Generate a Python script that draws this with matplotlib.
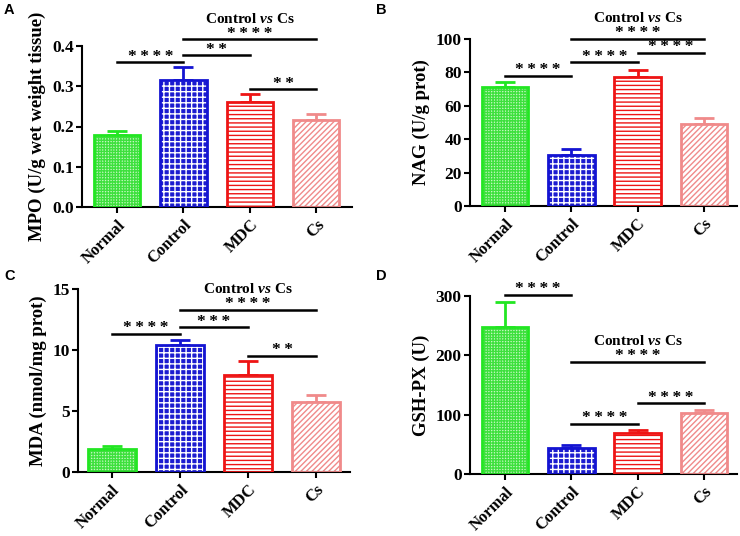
import matplotlib
matplotlib.use('Agg')
import matplotlib.pyplot as plt
from matplotlib.ticker import FormatStrFormatter

plt.rcParams['font.family'] = 'Liberation Serif'
plt.rcParams['font.weight'] = 'bold'
plt.rcParams['mathtext.fontset'] = 'custom'
plt.rcParams['mathtext.it'] = 'Liberation Serif:italic:bold'
plt.rcParams['mathtext.rm'] = 'Liberation Serif:bold'
plt.rcParams['hatch.linewidth'] = 1.0

groups = ['Normal', 'Control', 'MDC', 'Cs']

# panel A - MPO
mpo_mean = [0.180, 0.315, 0.261, 0.215]
mpo_err = [0.010, 0.032, 0.019, 0.017]
# panel B - NAG
nag_mean = [71.2, 30.5, 77.2, 48.9]
nag_err = [3.3, 3.8, 4.0, 4.0]
# panel C - MDA
mda_mean = [1.90, 10.36, 7.91, 5.70]
mda_err = [0.25, 0.47, 1.14, 0.63]
# panel D - GSH-PX
gsh_mean = [248, 44, 69, 103]
gsh_err = [42, 5.6, 5.0, 5.0]

# significance brackets: (from, to, height, stars)
mpo_sig = [(0, 1, 0.3595, '****'), (1, 2, 0.377, '**'), (1, 3, 0.4165, '****'), (2, 3, 0.293, '**')]
nag_sig = [(0, 1, 78, '****'), (1, 2, 86, '****'), (2, 3, 91.6, '****'), (1, 3, 100, '****')]
mda_sig = [(0, 1, 11.29, '****'), (1, 2, 11.86, '***'), (1, 3, 13.28, '****'), (2, 3, 9.52, '**')]
gsh_sig = [(0, 1, 302, '****'), (1, 3, 189, '****'), (1, 2, 85, '****'), (2, 3, 119, '****')]

edge_colors = ['#22e622', '#1414d2', '#ee1414', '#f08a8a']
face_colors = ['#c4f8c0', '#1c1cd0', 'white', 'white']
hatch_colors = ['#3ee03e', 'white', '#ee1414', '#f08a8a']
hatches = ['++++++', '+++', '----', '//////']

W, H = 740, 536
panels = [
    # letter, mean, err, sig, ylabel, ylim, yticks, fmt, box(px: left, right, bottom, top), xlim, letter pos
    ('A', mpo_mean, mpo_err, mpo_sig, 'MPO (U/g wet weight tissue)', 0.4, [0, 0.1, 0.2, 0.3, 0.4], '%.1f',
     (82, 352, 207, 46), (-0.53, 3.54), (4, 10)),
    ('B', nag_mean, nag_err, nag_sig, 'NAG (U/g prot)', 100, [0, 20, 40, 60, 80, 100], '%d',
     (470, 737, 206, 39), (-0.53, 3.5), (376, 10)),
    ('C', mda_mean, mda_err, mda_sig, 'MDA (nmol/mg prot)', 15, [0, 5, 10, 15], '%d',
     (78, 350, 472, 288.7), (-0.5, 3.5), (4, 276)),
    ('D', gsh_mean, gsh_err, gsh_sig, 'GSH-PX (U)', 300, [0, 100, 200, 300], '%d',
     (470, 737, 474, 296), (-0.53, 3.5), (376, 276)),
]

fig = plt.figure(figsize=(7.4, 5.36), dpi=100)

for letter, mean, err, sig, ylabel, ytop, yticks, fmt, box, xlim, lpos in panels:
    l, r, b, t = box
    ax = fig.add_axes([l / W, 1 - b / H, (r - l) / W, (b - t) / H])
    x = list(range(len(groups)))
    for i in x:
        ax.bar(i, mean[i], width=0.7, color=face_colors[i], edgecolor=hatch_colors[i],
               hatch=hatches[i], linewidth=0, zorder=2)
        ax.bar(i, mean[i], width=0.7, color='none', edgecolor=edge_colors[i],
               linewidth=2.0, zorder=3)
        ax.errorbar(i, mean[i], yerr=[[0], [err[i]]], fmt='none', ecolor=edge_colors[i],
                    elinewidth=2.0, capsize=7.5, capthick=2.0, zorder=1)
    ax.set_xlim(*xlim)
    ax.set_ylim(0, ytop)
    ax.set_yticks(yticks)
    ax.yaxis.set_major_formatter(FormatStrFormatter(fmt))
    ax.set_xticks(x)
    ax.set_xticklabels(groups, rotation=45, ha='right', rotation_mode='anchor', fontsize=12)
    ax.tick_params(axis='y', labelsize=12.5, width=1.5, length=4, pad=2)
    ax.tick_params(axis='x', width=1.5, length=4, pad=3)
    ax.set_ylabel(ylabel, fontsize=13.5, fontweight='bold', labelpad=4)
    for s in ['top', 'right']:
        ax.spines[s].set_visible(False)
    for s in ['left', 'bottom']:
        ax.spines[s].set_linewidth(1.5)

    for a, c, h, stars in sig:
        ax.plot([a, c], [h, h], color='black', lw=1.8, clip_on=False, zorder=4)
        ax.annotate('\u2009'.join(stars), xy=((a + c) / 2, h), xytext=(0, 4), textcoords='offset points',
                    ha='center', va='center', fontsize=12.5, annotation_clip=False)
        if a == 1 and c == 3:
            ax.annotate(r'Control $\it{vs}$ Cs', xy=(2, h), xytext=(0, 15), textcoords='offset points',
                        ha='center', va='center', fontsize=11, fontweight='bold', annotation_clip=False)

    fig.text(lpos[0] / W, 1 - lpos[1] / H, letter, family='Liberation Sans', fontweight='bold',
             fontsize=10.5, va='center', ha='left')

fig.savefig('out.png', dpi=100)
